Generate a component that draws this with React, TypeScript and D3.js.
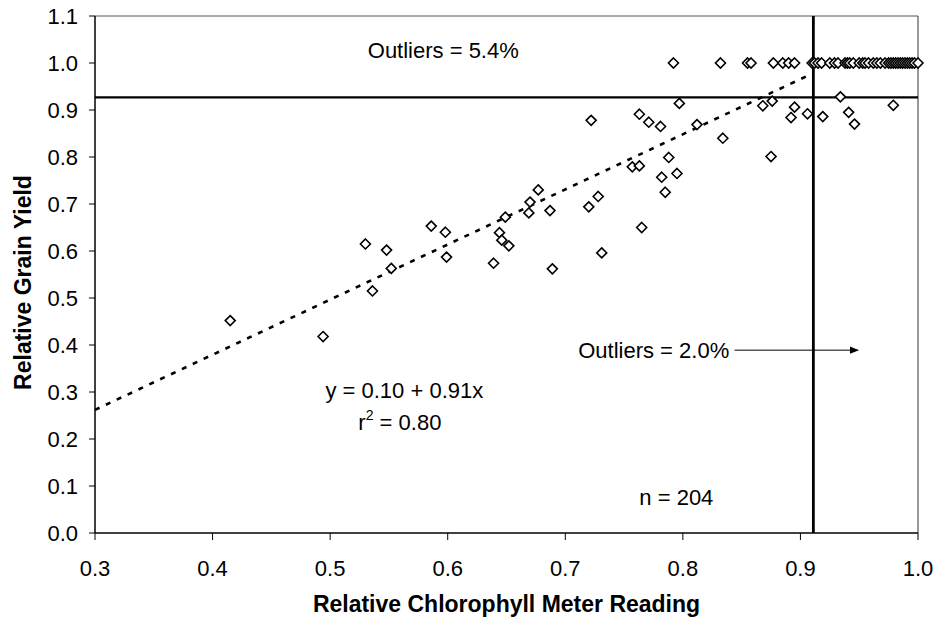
import React from "react";
import * as d3 from "d3";

// Paired observations below full yield (x = relative meter reading, y = relative yield)
const scatterX = [
  0.415, 0.494, 0.53, 0.536, 0.548, 0.552, 0.586, 0.598, 0.599, 0.639, 0.644, 0.646,
  0.649, 0.652, 0.669, 0.67, 0.677, 0.687, 0.689, 0.72, 0.722, 0.728, 0.731, 0.757,
  0.763, 0.763, 0.765, 0.771, 0.781, 0.782, 0.785, 0.788, 0.795, 0.797, 0.812, 0.834,
  0.868, 0.876, 0.875, 0.892, 0.895, 0.906, 0.919, 0.934, 0.941, 0.946, 0.979,
];
const scatterY = [
  0.452, 0.418, 0.615, 0.515, 0.602, 0.563, 0.653, 0.64, 0.587, 0.574, 0.639, 0.623,
  0.672, 0.611, 0.681, 0.704, 0.73, 0.686, 0.562, 0.694, 0.878, 0.716, 0.596, 0.779,
  0.781, 0.891, 0.65, 0.874, 0.865, 0.757, 0.725, 0.799, 0.765, 0.914, 0.869, 0.84,
  0.909, 0.919, 0.801, 0.884, 0.906, 0.892, 0.886, 0.928, 0.895, 0.87, 0.91,
];
// Observations reaching full relative yield
const fullYieldX = [
  0.792, 0.832, 0.855, 0.858, 0.877, 0.885, 0.89, 0.895,
  0.91, 0.912, 0.915, 0.918, 0.925, 0.929, 0.932, 0.938, 0.94, 0.942, 0.945, 0.95,
  0.953, 0.955, 0.958, 0.962, 0.965, 0.968, 0.972, 0.975, 0.977, 0.979, 0.981, 0.983,
  0.985, 0.987, 0.989, 0.991, 0.993, 0.995, 0.997, 1.0,
];
const fullYieldY = 1.0;

// Fitted trend (drawn segment end points)
const trendX = [0.3, 0.908];
const trendY = [0.262, 0.975];

// Threshold lines
const yieldThreshold = 0.927;
const meterThreshold = 0.911;

const xTicks = [0.3, 0.4, 0.5, 0.6, 0.7, 0.8, 0.9, 1.0];
const yTicks = [0, 0.1, 0.2, 0.3, 0.4, 0.5, 0.6, 0.7, 0.8, 0.9, 1.0, 1.1];

const W = 937;
const H = 622;
const left = 95;
const right = 918;
const top = 16;
const bottom = 533;
const FONT = "'Liberation Sans', Arial, Helvetica, sans-serif";

export default function App() {
  const x = d3.scaleLinear().domain([0.3, 1.0]).range([left, right]);
  const y = d3.scaleLinear().domain([0, 1.1]).range([bottom, top]);

  const points: [number, number][] = [
    ...scatterX.map((v, i) => [v, scatterY[i]] as [number, number]),
    ...fullYieldX.map((v) => [v, fullYieldY] as [number, number]),
  ];

  const r = 5;
  const diamond = `M0,${-r}L${r},0L0,${r}L${-r},0Z`;

  const trendLine = d3
    .line<number>()
    .x((v) => x(v))
    .y((_, i) => y(trendY[i]))(trendX);

  return (
    <svg
      width={W}
      height={H}
      style={{ position: "fixed", left: 0, top: 0, background: "#fff" }}
      fontFamily={FONT}
    >
      <defs>
        <marker id="arrowHead" viewBox="0 0 10 10" refX="9" refY="5" markerWidth="9" markerHeight="9" orient="auto" markerUnits="userSpaceOnUse">
          <path d="M0,1L10,5L0,9Z" fill="#000" />
        </marker>
      </defs>
      <rect x={0} y={0} width={W} height={H} fill="#fff" />

      {/* plot frame */}
      <line x1={left} x2={right} y1={top} y2={top} stroke="#555" strokeWidth={1} />
      <line x1={right} x2={right} y1={top} y2={bottom} stroke="#333" strokeWidth={1} />
      <line x1={left} x2={left} y1={top} y2={bottom} stroke="#000" strokeWidth={1.5} />
      <line x1={left} x2={right} y1={bottom} y2={bottom} stroke="#000" strokeWidth={1.5} />

      {/* y axis ticks and labels */}
      {yTicks.map((t) => (
        <g key={`y${t}`}>
          <line x1={left - 6} x2={left} y1={y(t)} y2={y(t)} stroke="#000" strokeWidth={1} />
          <text x={78} y={y(t) + 8} textAnchor="end" fontSize={22} fill="#000">
            {t.toFixed(1)}
          </text>
        </g>
      ))}

      {/* x axis ticks and labels */}
      {xTicks.map((t) => (
        <g key={`x${t}`}>
          <line x1={x(t)} x2={x(t)} y1={bottom} y2={bottom + 7} stroke="#000" strokeWidth={1} />
          <text x={x(t)} y={576} textAnchor="middle" fontSize={22} fill="#000">
            {t.toFixed(1)}
          </text>
        </g>
      ))}

      {/* threshold lines */}
      <line x1={left} x2={right} y1={y(yieldThreshold)} y2={y(yieldThreshold)} stroke="#000" strokeWidth={2.2} />
      <line x1={x(meterThreshold)} x2={x(meterThreshold)} y1={top} y2={bottom} stroke="#000" strokeWidth={2.8} />

      {/* trend line */}
      <path d={trendLine ?? ""} fill="none" stroke="#000" strokeWidth={2.6} strokeDasharray="5,7" />

      {/* observations */}
      {points.map(([px, py], i) => (
        <path
          key={i}
          d={diamond}
          transform={`translate(${x(px)},${y(py)})`}
          fill="#fff"
          stroke="#000"
          strokeWidth={1.6}
        />
      ))}

      {/* annotations */}
      <text x={x(0.532)} y={y(1.011)} fontSize={22} fill="#000">
        Outliers = 5.4%
      </text>
      <text x={x(0.711)} y={y(0.372)} fontSize={22} fill="#000">
        Outliers = 2.0%
      </text>
      <line
        x1={x(0.844)}
        x2={x(0.949)}
        y1={y(0.389)}
        y2={y(0.389)}
        stroke="#000"
        strokeWidth={1}
        markerEnd="url(#arrowHead)"
      />
      <text x={x(0.496)} y={y(0.287)} fontSize={22} fill="#000">
        y = 0.10 + 0.91x
      </text>
      <text x={x(0.524)} y={y(0.219)} fontSize={22} fill="#000">
        r<tspan fontSize={14} dy={-10}>2</tspan>
        <tspan dy={10}> = 0.80</tspan>
      </text>
      <text x={x(0.763)} y={y(0.06)} fontSize={22} fill="#000">
        n = 204
      </text>

      {/* axis titles */}
      <text
        transform={`translate(31,${(top + bottom) / 2 + 8}) rotate(-90)`}
        textAnchor="middle"
        fontSize={23}
        fontWeight="bold"
        fill="#000"
      >
        Relative Grain Yield
      </text>
      <text x={(left + right) / 2} y={612} textAnchor="middle" fontSize={23} fontWeight="bold" fill="#000">
        Relative Chlorophyll Meter Reading
      </text>
    </svg>
  );
}
